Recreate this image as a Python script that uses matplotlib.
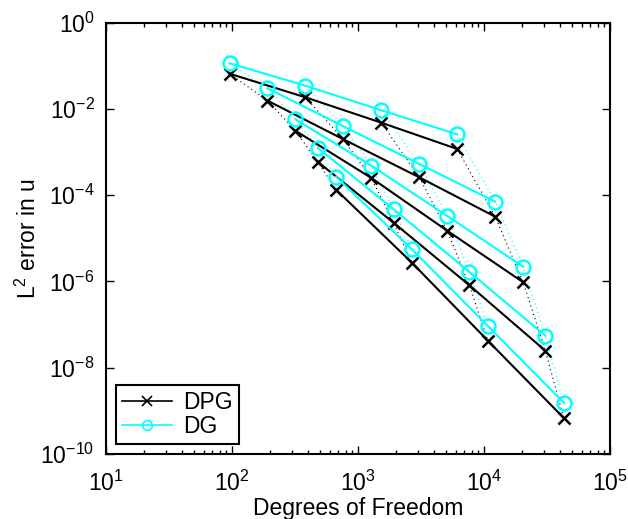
import matplotlib
matplotlib.use("Agg")
import matplotlib.pyplot as plt
import numpy as np

plt.rcParams['font.family'] = ['Liberation Sans', 'DejaVu Sans']
plt.rcParams['mathtext.fontset'] = 'custom'
plt.rcParams['mathtext.rm'] = 'Liberation Sans'
plt.rcParams['mathtext.it'] = 'Liberation Sans'

# polynomial orders and mesh refinements
orders = [1, 2, 3, 4, 5]
dofs_coarse = [96, 192, 320, 480, 672]
refine = [1, 4, 16, 64]

# L2 error, one row per order, one column per mesh
dpg_err = [
    [6.57e-2, 1.86e-2, 4.80e-3, 1.18e-3],
    [1.56e-2, 1.98e-3, 2.60e-4, 3.18e-5],
    [3.13e-3, 2.51e-4, 1.50e-5, 9.6e-7],
    [5.98e-4, 2.31e-5, 8.15e-7, 2.48e-8],
    [1.34e-4, 2.72e-6, 4.24e-8, 6.84e-10],
]
dg_err = [
    [1.145e-1, 3.46e-2, 9.31e-3, 2.58e-3],
    [3.01e-2, 3.96e-3, 5.30e-4, 7.08e-5],
    [5.75e-3, 4.83e-4, 3.30e-5, 2.20e-6],
    [1.26e-3, 4.74e-5, 1.66e-6, 5.53e-8],
    [2.69e-4, 5.57e-6, 9.29e-8, 1.55e-9],
]

dofs = np.outer(dofs_coarse, refine)
dpg = np.array(dpg_err)
dg = np.array(dg_err)

fig = plt.figure(figsize=(6.28, 5.19), dpi=100)
ax = fig.add_axes([0.1683, 0.1252, 0.8030, 0.8311])

# p-refinement (dotted) for each mesh
for k in range(len(refine)):
    ax.loglog(dofs[:, k], dpg[:, k], color='k', lw=0.8, ls=(0, (1, 3)))
    ax.loglog(dofs[:, k], dg[:, k], color='cyan', lw=0.8, ls=(0, (1, 3)))

# h-refinement (solid) for each order
for i in range(len(orders)):
    ax.loglog(dofs[i], dpg[i], '-x', color='k', lw=1.5, ms=8, mew=1.8,
              label='DPG' if i == 0 else None)
    ax.loglog(dofs[i], dg[i], '-o', color='cyan', lw=1.5, ms=10, mew=1.8,
              mfc='none', label='DG' if i == 0 else None)

ax.set_xlim(1e1, 1e5)
ax.set_ylim(1e-10, 1e0)
ax.set_xticks([1e1, 1e2, 1e3, 1e4, 1e5])
ax.set_yticks([1e-10, 1e-8, 1e-6, 1e-4, 1e-2, 1e0])
ax.yaxis.set_minor_locator(matplotlib.ticker.NullLocator())
ax.tick_params(which='both', direction='in', top=True, right=True,
               labelsize=16.5, width=1.0)
ax.tick_params(which='major', length=6)
ax.tick_params(axis='x', which='major', pad=12)
ax.tick_params(axis='y', which='major', pad=8)
ax.tick_params(which='minor', length=3)
for s in ax.spines.values():
    s.set_linewidth(1.5)

ax.set_xlabel('Degrees of Freedom', fontsize=16.5, labelpad=1)
ax.set_ylabel('L$^2$ error in u', fontsize=16.5, labelpad=0)

leg = ax.legend(loc='lower left', fontsize=16.5, fancybox=False,
                edgecolor='k', framealpha=1, handlelength=2.2, numpoints=1,
                borderaxespad=0.45, handletextpad=0.5, labelspacing=0.05,
                borderpad=0.25)
leg.get_frame().set_linewidth(1.5)
for h in leg.legend_handles:
    h.set_linewidth(1.2)
    h.set_markersize(7)
    h.set_markeredgewidth(1.2)

fig.savefig('out.png', dpi=100)
